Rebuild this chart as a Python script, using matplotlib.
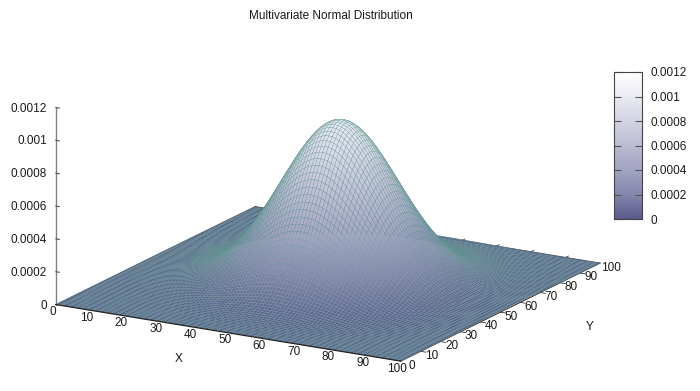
import numpy as np
import matplotlib
matplotlib.use("Agg")
import matplotlib.pyplot as plt
from matplotlib.colors import LinearSegmentedColormap, Normalize
from matplotlib.cm import ScalarMappable
from mpl_toolkits.mplot3d import proj3d

plt.rcParams['font.family'] = ['Liberation Sans', 'DejaVu Sans']

title = "Multivariate Normal Distribution"
x_label = "X"
y_label = "Y"
z_ticks = [0, 0.0002, 0.0004, 0.0006, 0.0008, 0.001, 0.0012]
z_tick_labels = ["0", "0.0002", "0.0004", "0.0006", "0.0008", "0.001", "0.0012"]
xy_ticks = [0, 10, 20, 30, 40, 50, 60, 70, 80, 90, 100]

# Surface: height of the crest and its two cross-sections,
# sampled every unit from 0 to 100.
peak_height = 0.00099
x_section = [.0025, .0031, .0039, .0048, .0060, .0074, .0091, .0111, .0135, .0164,
             .0198, .0239, .0286, .0340, .0404, .0477, .0561, .0657, .0766, .0889,
             .1027, .1182, .1353, .1543, .1751, .1979, .2226, .2494, .2780, .3086,
             .3411, .3753, .4111, .4483, .4868, .5261, .5662, .6065, .6469, .6869,
             .7261, .7642, .8007, .8353, .8674, .8968, .9231, .9460, .9651, .9802,
             .9911, .9978, 1.0, .9978, .9911, .9802, .9651, .9460, .9231, .8968,
             .8674, .8353, .8007, .7642, .7261, .6869, .6469, .6065, .5662, .5261,
             .4868, .4483, .4111, .3753, .3411, .3086, .2780, .2494, .2226, .1979,
             .1751, .1543, .1353, .1182, .1027, .0889, .0766, .0657, .0561, .0477,
             .0404, .0340, .0286, .0239, .0198, .0164, .0135, .0111, .0091, .0074,
             .0060]
y_section = [.0022, .0028, .0035, .0043, .0054, .0066, .0082, .0100, .0123, .0149,
             .0181, .0218, .0261, .0312, .0371, .0439, .0518, .0608, .0710, .0826,
             .0956, .1103, .1266, .1446, .1645, .1863, .2100, .2357, .2635, .2931,
             .3247, .3580, .3930, .4296, .4674, .5063, .5461, .5863, .6268, .6670,
             .7066, .7454, .7827, .8183, .8517, .8825, .9104, .9350, .9560, .9731,
             .9862, .9950, .9994, .9994, .9950, .9862, .9731, .9560, .9350, .9104,
             .8825, .8517, .8183, .7827, .7454, .7066, .6670, .6268, .5863, .5461,
             .5063, .4674, .4296, .3930, .3580, .3247, .2931, .2635, .2357, .2100,
             .1863, .1645, .1446, .1266, .1103, .0956, .0826, .0710, .0608, .0518,
             .0439, .0371, .0312, .0261, .0218, .0181, .0149, .0123, .0100, .0082,
             .0066]
grid = np.linspace(0, 100, len(x_section))
Z = peak_height * np.outer(y_section, x_section)   # rows follow Y, columns follow X
X, Y = np.meshgrid(grid, grid)

W, H = 700, 391
palette = ["#5a5a8c", "#8686ae", "#a3a3c3", "#bbbbd4", "#d3d3e4", "#eaeaf3", "#ffffff"]
cmap = LinearSegmentedColormap.from_list("bluegray", palette)
norm = Normalize(0, 0.0012)
TEXT = "#1a1a1a"

fig = plt.figure(figsize=(W / 100, H / 100), dpi=100)
S = 582
ax = fig.add_axes([29 / W, -93.2 / H, S / W, S / H], projection='3d', proj_type='ortho')
ax.view_init(elev=16.5, azim=-60)
ax.set_xlim(0, 100, view_margin=0)
ax.set_ylim(0, 100, view_margin=0)
ax.set_zlim(0, 0.0012, view_margin=0)
ax.set_box_aspect((398, 398, 205.4))
ax.set_xticks([])
ax.set_yticks([])
ax.set_zticks([])
ax.set_axis_off()
ax.patch.set_alpha(0)

ax.plot_surface(X, Y, Z, rstride=1, cstride=1, cmap=cmap, norm=norm, shade=False,
                edgecolor="#5f9a90", linewidth=0.2, antialiased=True)

PROJ = ax.get_proj()


def put(x, y, z, s, right=0, down=0, ha='center'):
    x2, y2, _ = proj3d.proj_transform(x, y, z, PROJ)
    ax.annotate(s, xy=(x2, y2), xycoords='data', xytext=(right, -down), textcoords='offset pixels',
                fontsize=8.5, color=TEXT, ha=ha, va='center', annotation_clip=False, zorder=50)


# Box edges
ax.plot([0, 0], [0, 0], [0, 0.0012], color="#808080", lw=1, zorder=40)
ax.plot([0, 100], [0, 0], [0, 0], color="#222222", lw=0.9, zorder=40)
ax.plot([0, 0], [0, 100], [0, 0], color="#333333", lw=0.6, zorder=1)
ax.plot([100, 100], [0, 100], [0, 0], color="#333333", lw=0.8, zorder=1)
ax.plot([0, 100], [100, 100], [0, 0], color="#333333", lw=0.8, zorder=1)

for t, lab in zip(z_ticks, z_tick_labels):
    if t > 0:
        ax.plot([0, 1.0], [0, 0.0], [t, t], color="#555555", lw=0.8, zorder=40)
    put(0, 0, t, lab, right=-9, down=1, ha='right')
for t in xy_ticks:
    put(t, 0, 0, str(t), right=-3.5, down=7.5)
    put(100, t, 0, str(t), right=11, down=4.5)
    if 0 < t < 100:
        ax.plot([100, 101.5], [t, t], [0, 0], color="#333333", lw=0.6, zorder=1)
        ax.plot([t, t], [100, 101.5], [0, 0], color="#333333", lw=0.6, zorder=1)

fig.text(331 / W, 1 - 16 / H, title, fontsize=8.5, color=TEXT, ha='center', va='center')
fig.text(179 / W, 1 - 359 / H, x_label, fontsize=8.5, color=TEXT, ha='center', va='center')
fig.text(590 / W, 1 - 327 / H, y_label, fontsize=8.5, color=TEXT, ha='center', va='center')

cax = fig.add_axes([614 / W, 1 - 219 / H, 28 / W, 147 / H])
cb = fig.colorbar(ScalarMappable(norm=norm, cmap=cmap), cax=cax)
cb.set_ticks(z_ticks, labels=z_tick_labels)
cb.ax.tick_params(direction='in', left=True, right=True, length=5, width=0.8, color="#555555",
                  labelsize=8.5, labelcolor=TEXT, pad=6)
cb.outline.set_edgecolor("#444444")
cb.outline.set_linewidth(0.8)

fig.savefig("out.png", dpi=100)
